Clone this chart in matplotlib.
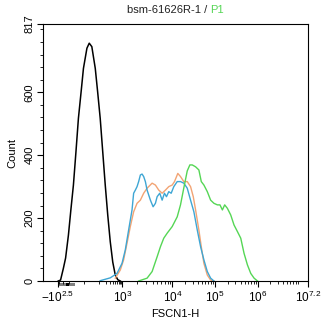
import numpy as np
import matplotlib
matplotlib.use("Agg")
import matplotlib.pyplot as plt
from matplotlib.offsetbox import TextArea, HPacker, AnchoredOffsetbox
from matplotlib.patches import Rectangle
from matplotlib.transforms import blended_transform_factory

plt.rcParams["font.family"] = ["Liberation Sans", "DejaVu Sans"]
plt.rcParams["mathtext.fontset"] = "custom"
plt.rcParams["mathtext.rm"] = "Liberation Sans"
plt.rcParams["mathtext.it"] = "Liberation Sans:italic"
plt.rcParams["mathtext.default"] = "regular"

# ── histogram data (FSCN1-H intensity vs event count) ──────
black_x = [-310, -247, -187, -149, -111, -85, -63, -45, -30, -15, -4, 13,
           25, 40, 64, 85, 112, 146, 188, 241, 309, 395, 505, 646, 824]
black_y = [0, 3, 40, 73, 146, 226, 305, 410, 517, 605, 676, 740,
           756, 745, 676, 600, 517, 410, 305, 210, 125, 60, 19, 4, 0]

blue_x = [112, 309, 597, 973, 1148, 1337, 1563, 1683, 1820, 1968, 2118, 2291,
          2477, 2667, 2884, 3119, 3631, 4111, 4571, 4943, 5572, 6223, 6918,
          7586, 8433, 9419, 10740, 12940, 15490, 18570, 22390, 26840, 32170,
          38730, 46420, 55630, 66970, 80330, 96200]
blue_y = [1, 10, 24, 56, 99, 162, 226, 279, 289, 300, 316, 337,
          340, 332, 316, 289, 257, 236, 247, 268, 279, 257, 279,
          268, 284, 279, 300, 316, 316, 311, 295, 257, 220,
          162, 109, 67, 30, 9, 0]

orange_x = [505, 824, 1062, 1242, 1445, 1683, 1968, 2291, 2667, 3119, 3926,
            4571, 5321, 6223, 7244, 8433, 9863, 11160, 13370, 15490, 18570,
            22390, 26840, 31120, 35320, 42270, 48200, 55630, 66970, 80330,
            96200]
orange_y = [9, 35, 67, 120, 173, 220, 247, 257, 279, 295, 311,
            305, 289, 279, 289, 300, 305, 316, 342, 332, 316,
            316, 300, 268, 226, 162, 109, 56, 19, 3,
            0]

green_x = [2118, 3119, 3926, 4943, 5754, 6699, 7834, 9863, 12940, 15490,
           18570, 22390, 25820, 29440, 35320, 42270, 48200, 55630, 66970,
           80330, 96200, 115600, 132800, 151000, 170900, 197300, 235600,
           281200, 337300, 402700, 479800, 575400, 687200, 820400, 984000]
green_y = [0, 9, 30, 77, 109, 136, 152, 173, 204, 242,
           296, 350, 369, 369, 363, 353, 316, 305, 284,
           257, 247, 242, 242, 226, 242, 231, 210,
           178, 157, 136, 88, 51, 24, 9, 0]

# ── biexponential-style axis (linear near zero, log above) ──────
tick_values = [-10 ** 2.5, 1e3, 1e4, 1e5, 1e6, 10 ** 7.2]
tick_labels = [r"$-10^{2.5}$", r"$10^{3}$", r"$10^{4}$", r"$10^{5}$",
               r"$10^{6}$", r"$10^{7.2}$"]
tick_pos = [15, 79, 129, 171, 214, 264]   # display units along the axis

zero_band = (-316, -50)
zero_mark = (-145, -110)


def _asinh(x):
    return np.arcsinh(np.asarray(x, dtype=float) / 50.0) / np.log(10)


_u = _asinh(tick_values)
_p = np.asarray(tick_pos, dtype=float)
_s0 = (_p[1] - _p[0]) / (_u[1] - _u[0])
_s1 = (_p[-1] - _p[-2]) / (_u[-1] - _u[-2])
U_EXT = np.concatenate([[_u[0] - 20], _u, [_u[-1] + 20]])
P_EXT = np.concatenate([[_p[0] - 20 * _s0], _p, [_p[-1] + 20 * _s1]])


def forward(x):
    return np.interp(_asinh(x), U_EXT, P_EXT)


def inverse(p):
    u = np.interp(np.asarray(p, dtype=float), P_EXT, U_EXT)
    return 50.0 * np.sinh(u * np.log(10))


minor_x = [-300, -200, -100, 0, 100, 200, 300, 400, 500, 600, 700, 800, 900]
for dec in (3, 4, 5, 6):
    minor_x += [m * 10 ** dec for m in range(2, 10)]
minor_x = [v for v in minor_x if v < 10 ** 7.2]

# ── plot ────────────────────────────────────
fig = plt.figure(figsize=(3.22, 3.25), dpi=100)
ax = fig.add_axes([43 / 322, 44 / 325, 265 / 322, 257 / 325])
ax.set_xscale("function", functions=(forward, inverse))

ax.plot(black_x, black_y, color="black", lw=1.1)
ax.plot(orange_x, orange_y, color="#f2a474", lw=1.0)
ax.plot(blue_x, blue_y, color="#3ea6d4", lw=1.0)
ax.plot(green_x, green_y, color="#55d655", lw=1.0)

ax.set_xlim(inverse(0), 10 ** 7.2)
ax.set_ylim(0, 817)

ax.set_xticks(tick_values, labels=tick_labels)
ax.set_xticks(minor_x, minor=True)
ax.set_yticks([0, 200, 400, 600, 817])
ax.set_yticks(np.arange(40, 817, 40), minor=True)
ax.tick_params(axis="both", which="major", length=4, width=0.8,
               labelsize=8, pad=2)
ax.tick_params(axis="x", which="major", labelsize=8.5)
ax.tick_params(axis="both", which="minor", length=2, width=0.6)
ax.tick_params(axis="y", labelrotation=90)
for lab in ax.get_yticklabels():
    lab.set_va("center")

ax.set_xlabel("FSCN1-H", fontsize=8, labelpad=3)
ax.set_ylabel("Count", fontsize=8, labelpad=5)
for sp in ax.spines.values():
    sp.set_linewidth(0.8)

# zero marker under the x axis
tr = blended_transform_factory(ax.transData, ax.transAxes)
ax.add_patch(Rectangle((zero_band[0], -0.019), zero_band[1] - zero_band[0],
                       0.011, transform=tr, color="#808080", lw=0,
                       clip_on=False))
ax.add_patch(Rectangle((zero_mark[0], -0.021), zero_mark[1] - zero_mark[0],
                       0.014, transform=tr, color="black", lw=0,
                       clip_on=False))

# two-colour title
title = HPacker(children=[
    TextArea("bsm-61626R-1 / ", textprops=dict(color="#222222", fontsize=8)),
    TextArea("P1", textprops=dict(color="#55d655", fontsize=8)),
], align="baseline", pad=0, sep=0)
ax.add_artist(AnchoredOffsetbox(loc="lower center", child=title, pad=0,
                                borderpad=0, frameon=False,
                                bbox_to_anchor=(0.5, 1.035),
                                bbox_transform=ax.transAxes))

fig.savefig("out.png", dpi=100)
